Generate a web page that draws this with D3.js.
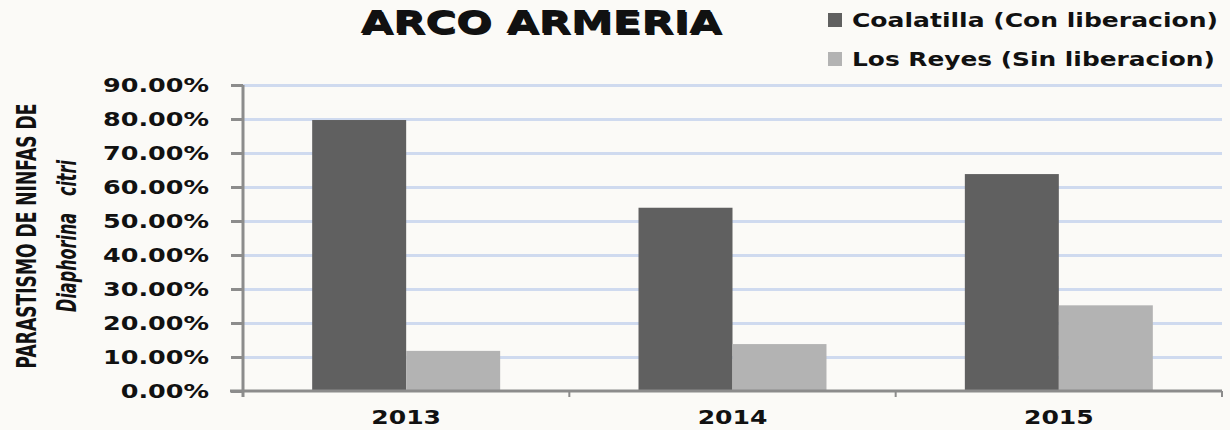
<!DOCTYPE html>
<html>
<head>
<meta charset="utf-8">
<script src="https://cdn.jsdelivr.net/npm/d3@7/dist/d3.min.js"></script>
<style>
  html, body { margin: 0; padding: 0; background: #fbfaf7; }
  svg { display: block; }
  text { font-family: "DejaVu Sans", Verdana, sans-serif; font-weight: bold; fill: #111; }
</style>
</head>
<body>
<svg id="chart" width="1230" height="430"></svg>
<script>
// Years on the category axis
const years = ["2013", "2014", "2015"];
// Series names (legend labels)
const seriesNames = ["Coalatilla (Con liberacion)", "Los Reyes (Sin liberacion)"];
// Nymph parasitism rates per year
const coalatilla = [0.797, 0.539, 0.638];
const losReyes = [0.118, 0.138, 0.252];
// Value-axis ticks
const yTicks = [0, 0.1, 0.2, 0.3, 0.4, 0.5, 0.6, 0.7, 0.8, 0.9];

const seriesValues = [coalatilla, losReyes];
const colors = ["#606060", "#b3b3b3"];

const svg = d3.select("#chart");
const plotL = 243, plotR = 1222, plotT = 85, plotB = 391;

// Background
svg.append("rect").attr("width", 1230).attr("height", 430).attr("fill", "#fbfaf7");

const x = d3.scaleBand().domain(years).range([plotL, plotR]).paddingInner(0).paddingOuter(0);
const xs = d3.scaleBand().domain(seriesNames).range([0, x.bandwidth()]).paddingInner(0).paddingOuter(0.736);
const y = d3.scaleLinear().domain([0, 0.9]).range([plotB, plotT]);

// Horizontal gridlines
const grid = svg.append("g").attr("transform", `translate(${plotL},0)`)
  .call(d3.axisLeft(y).tickValues(yTicks.filter(d => d > 0)).tickSize(-(plotR - plotL)).tickFormat(""));
grid.select(".domain").remove();
grid.selectAll("line").attr("stroke", "#cfdaef").attr("stroke-width", 3);

// Bars
years.forEach((yr, i) => {
  const g = svg.append("g").attr("transform", `translate(${x(yr)},0)`);
  g.selectAll("rect")
    .data(seriesNames.map((s, k) => ({ s, v: seriesValues[k][i], k })))
    .join("rect")
    .attr("x", d => xs(d.s))
    .attr("width", xs.bandwidth())
    .attr("y", d => y(d.v))
    .attr("height", d => y(0) - y(d.v))
    .attr("fill", d => colors[d.k]);
});

// Helper: stretch text horizontally around its anchor
function stretch(textSel, k) {
  textSel.each(function () {
    const t = d3.select(this);
    const tx = +t.attr("x") || 0;
    t.attr("x", tx / k).attr("transform", `scale(${k},1)`);
  });
}

// Y axis
const yAxis = svg.append("g").attr("transform", `translate(${plotL},0)`)
  .call(d3.axisLeft(y).tickValues(yTicks).tickSize(12).tickSizeOuter(0).tickPadding(22).tickFormat(d3.format(".2%")));
yAxis.select(".domain").remove();
yAxis.selectAll(".tick line").attr("stroke", "#8c8c8c").attr("stroke-width", 3);
yAxis.selectAll(".tick text").attr("font-size", 19).attr("fill", "#111")
  .attr("font-family", "DejaVu Sans").attr("font-weight", "bold");
stretch(yAxis.selectAll(".tick text"), 1.34);
svg.append("line").attr("x1", plotL).attr("x2", plotL).attr("y1", plotT).attr("y2", plotB + 6)
  .attr("stroke", "#8c8c8c").attr("stroke-width", 3);

// X axis
const xAxis = svg.append("g").attr("transform", `translate(0,${plotB})`)
  .call(d3.axisBottom(x).tickSize(0).tickPadding(20).tickSizeOuter(0));
xAxis.select(".domain").remove();
xAxis.selectAll(".tick text").attr("font-size", 19).attr("fill", "#111")
  .attr("font-family", "DejaVu Sans").attr("font-weight", "bold");
stretch(xAxis.selectAll(".tick text"), 1.32);
svg.append("line").attr("x1", plotL - 13).attr("x2", plotR).attr("y1", plotB).attr("y2", plotB)
  .attr("stroke", "#8c8c8c").attr("stroke-width", 3);
// Category boundary ticks
svg.append("g").selectAll("line").data(years).join("line")
  .attr("x1", d => x(d) + x.bandwidth()).attr("x2", d => x(d) + x.bandwidth())
  .attr("y1", plotB).attr("y2", plotB + 6)
  .attr("stroke", "#8c8c8c").attr("stroke-width", 2);

// Title with soft drop shadow
const titleText = "ARCO ARMERIA";
[["#a0a0a0", 1.5], ["#111", 0]].forEach(([c, off]) => {
  svg.append("g").attr("transform", `translate(${541 + off},${33 + off})`)
    .append("text").attr("text-anchor", "middle").attr("font-size", 32).attr("fill", c)
    .attr("transform", "scale(1.31,1)").text(titleText);
});

// Legend
seriesNames.forEach((name, k) => {
  const cy = 20 + k * 39;
  svg.append("rect").attr("x", 828).attr("y", cy - 7).attr("width", 14).attr("height", 14).attr("fill", colors[k]);
  const g = svg.append("g").attr("transform", `translate(852,${cy + 7})`);
  const t = g.append("text").attr("font-size", 19).text(name);
  const w = t.node().getComputedTextLength();
  t.attr("transform", `scale(${(k === 0 ? 366 : 363) / w},1)`);
});

// Y-axis title (two rotated lines)
function yTitle(str, cx, cy, len, italic) {
  const g = svg.append("g").attr("transform", `translate(${cx},${cy}) rotate(-90)`);
  const t = g.append("text").attr("text-anchor", "middle").attr("font-size", 26)
    .attr("font-family", "DejaVu Sans Condensed, DejaVu Sans")
    .attr("font-style", italic ? "italic" : "normal").text(str);
  const w = t.node().getComputedTextLength();
  t.attr("transform", `scale(${len / w},1)`);
}
yTitle("PARASTISMO DE NINFAS DE", 36, 236, 265, false);
yTitle("Diaphorina\u00a0\u00a0\u00a0citri", 76, 236, 152, true);
</script>
</body>
</html>
